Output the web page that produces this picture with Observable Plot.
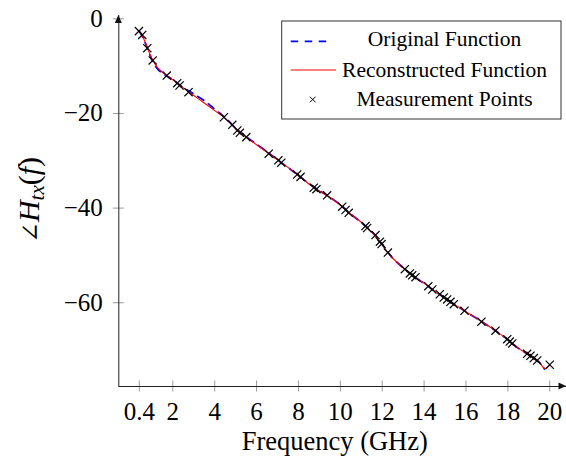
<!DOCTYPE html>
<html><head><meta charset="utf-8">
<script src="https://cdn.jsdelivr.net/npm/d3@7"></script>
<script src="https://cdn.jsdelivr.net/npm/@observablehq/plot@0.6"></script>
<style>body{margin:0;background:#fff}#chart{width:566px;height:463px}</style>
</head><body><div id="chart"></div>
<script>
// ---- data ----
const origFreq = [0.4,0.6,0.8,1.0,1.25,1.5,2,2.5,3,3.5,4,4.5,5,5.5,6,6.5,7,7.5,8,8.5,9,9.5,10,10.5,11,11.5,12,12.3,12.5,13,13.5,14,14.5,15,15.5,16,16.5,17,17.5,18,18.5,19,19.5,19.75];
const origPhase = [-2.6,-4.2,-6.4,-8.6,-10.5,-11.5,-12.9,-14.5,-15.9,-17.3,-19.1,-20.9,-23.1,-24.9,-26.5,-28.1,-29.8,-31.4,-33.1,-34.8,-36.3,-37.7,-39.3,-41.3,-43.0,-45.0,-47.7,-49.5,-50.6,-52.6,-54.4,-55.9,-57.5,-59.0,-60.5,-61.9,-63.3,-64.7,-66.2,-67.8,-69.6,-71.0,-72.6,-74.0];
const reconFreq = [0.4,0.6,0.8,1.0,1.25,1.5,2,2.5,3,3.5,4,4.5,5,5.5,6,6.5,7,7.5,8,8.5,9,9.5,10,10.5,11,11.5,12,12.3,12.5,13,13.5,14,14.5,15,15.5,16,16.5,17,17.5,18,18.5,19,19.5,19.75,20];
const reconPhase = [-2.6,-4.1,-6.3,-8.4,-10.2,-11.3,-12.9,-14.6,-16.2,-17.8,-19.4,-21.0,-23.2,-25.0,-26.6,-28.2,-29.8,-31.4,-33.1,-34.9,-36.4,-37.7,-39.4,-41.3,-43.0,-45.1,-47.8,-49.6,-50.6,-52.6,-54.4,-55.9,-57.5,-59.0,-60.5,-61.9,-63.3,-64.7,-66.2,-67.8,-69.6,-71.0,-72.5,-73.9,-73.2];
const measFreq = [0.38,0.54,0.78,1.04,1.71,2.21,2.32,2.75,4.44,4.84,5.08,5.20,5.51,6.58,7.04,7.18,7.94,8.10,8.73,8.86,9.37,10.09,10.25,10.40,11.20,11.28,11.68,11.89,11.97,12.27,13.08,13.32,13.43,13.59,14.20,14.39,14.75,14.94,15.10,15.26,15.42,15.93,16.74,17.41,17.97,18.09,18.21,18.92,19.08,19.24,19.40,20.0];
const measPhase = [-2.6,-3.4,-6.2,-8.8,-12.0,-13.6,-14.1,-15.5,-20.8,-22.4,-23.6,-24.1,-25.0,-28.5,-29.9,-30.4,-32.9,-33.4,-35.7,-36.0,-37.3,-39.7,-40.4,-41.0,-43.8,-44.2,-45.7,-47.1,-47.6,-49.4,-52.9,-53.8,-54.2,-54.6,-56.5,-57.2,-58.2,-58.9,-59.3,-59.8,-60.3,-61.7,-64.0,-65.9,-67.7,-68.2,-68.6,-70.8,-71.2,-71.7,-72.2,-73.1];
const xTicks = [0.4,2,4,6,8,10,12,14,16,18,20];
const yTicks = [0,-20,-40,-60];
const seriesNames = ["Original Function","Reconstructed Function","Measurement Points"];
const xLabel = "Frequency (GHz)";

const orig = origFreq.map((f,i)=>({f, v: origPhase[i]}));
const recon = reconFreq.map((f,i)=>({f, v: reconPhase[i]}));
const meas = measFreq.map((f,i)=>({f, v: measPhase[i]}));

const xDomain = [-0.58, 20.8], yDomain = [-77.7, 0.7];
const serif = "Liberation Serif, Times New Roman, serif";
const minus = d => d < 0 ? "\u2212" + (-d) : String(d);

const plot = Plot.plot({
  width: 566, height: 463,
  marginLeft: 118.3, marginRight: 0, marginTop: 15, marginBottom: 77,
  style: {fontFamily: serif, background: "white", color: "black"},
  x: {domain: xDomain},
  y: {domain: yDomain},
  marks: [
    Plot.ruleX(xTicks, {x: d => d, y1: yDomain[0], y2: yDomain[0], insetTop: -5.5, insetBottom: -5.5, stroke: "#9a9a9a", strokeWidth: 1}),
    Plot.ruleY(yTicks, {y: d => d, x1: xDomain[0], x2: xDomain[0], insetLeft: -5.5, insetRight: -5.5, stroke: "#9a9a9a", strokeWidth: 1}),
    Plot.ruleY([yDomain[0]], {stroke: "#222", strokeWidth: 1}),
    Plot.ruleX([xDomain[0]], {stroke: "#222", strokeWidth: 1}),
    Plot.axisX({ticks: xTicks, tickSize: 0, tickPadding: 15.5, fontSize: 25, label: null, tickFormat: d => String(d)}),
    Plot.axisY({ticks: yTicks, tickSize: 0, tickPadding: 16, fontSize: 25, label: null, tickFormat: minus}),
    Plot.line(orig, {x: "f", y: "v", stroke: "#0000ff", strokeWidth: 1.8, strokeDasharray: "7,6", curve: "catmull-rom"}),
    Plot.line(recon, {x: "f", y: "v", stroke: "#ff0000", strokeWidth: 1.1, curve: "catmull-rom"}),
    Plot.dot(meas, {x: "f", y: "v", symbol: "times", r: 3.8, stroke: "black", strokeWidth: 1.2})
  ]
});
document.getElementById("chart").appendChild(plot);

const svg = d3.select(plot);
const xs = plot.scale("x"), ys = plot.scale("y");
const x0 = xs.range[0], x1 = xs.range[1], yb = ys.range[0], yt = ys.range[1];
// arrow heads
svg.append("path").attr("d", `M${x1},${yb} L${x1-7.5},${yb-3.5} L${x1-7.5},${yb+3.5} Z`).attr("fill", "#111");
svg.append("path").attr("d", `M${x0},${yt} L${x0-3.5},${yt+8} L${x0+3.5},${yt+8} Z`).attr("fill", "#111");

// x label
svg.append("text").attr("x", (x0 + xs.apply(20)) / 2 + 1).attr("y", 450).attr("text-anchor", "middle")
  .attr("font-size", 26.5).text(xLabel);

// y label
const yl = svg.append("text").attr("transform", `translate(39,200) rotate(-90)`)
  .attr("text-anchor", "middle").attr("font-size", 30);
yl.append("tspan").style("font-family", "DejaVu Serif, serif").attr("font-size", 25).text("\u2220");
yl.append("tspan").attr("font-style", "italic").text("H");
yl.append("tspan").attr("font-style", "italic").attr("font-size", 21).attr("dy", 5).text("tx");
yl.append("tspan").attr("dy", -5).text("(");
yl.append("tspan").attr("font-style", "italic").text("f");
yl.append("tspan").text(")");

// legend
const lg = svg.append("g");
lg.append("rect").attr("x", 281.7).attr("y", 21).attr("width", 279.3).attr("height", 98)
  .attr("fill", "white").attr("stroke", "#333").attr("stroke-width", 1);
lg.append("line").attr("x1", 290.7).attr("x2", 331).attr("y1", 41.3).attr("y2", 41.3)
  .attr("stroke", "#0000ff").attr("stroke-width", 1.8).attr("stroke-dasharray", "7.5,6.5");
lg.append("line").attr("x1", 290.7).attr("x2", 336).attr("y1", 70).attr("y2", 70)
  .attr("stroke", "#ff0000").attr("stroke-width", 1.1);
lg.append("path").attr("d", "M309.9,96.7L315.5,102.3M309.9,102.3L315.5,96.7").attr("stroke", "black").attr("stroke-width", 1);
const ly = [46, 76.5, 106];
seriesNames.forEach((s, i) => {
  lg.append("text").attr("x", 444.5).attr("y", ly[i]).attr("text-anchor", "middle")
    .attr("font-size", 21.5).text(s);
});

// force serif on every text (CSS beats presentation attributes)
svg.selectAll("text").each(function() {
  if (!this.style.fontFamily) this.style.fontFamily = serif;
});
svg.style("font-family", serif);
</script></body></html>
